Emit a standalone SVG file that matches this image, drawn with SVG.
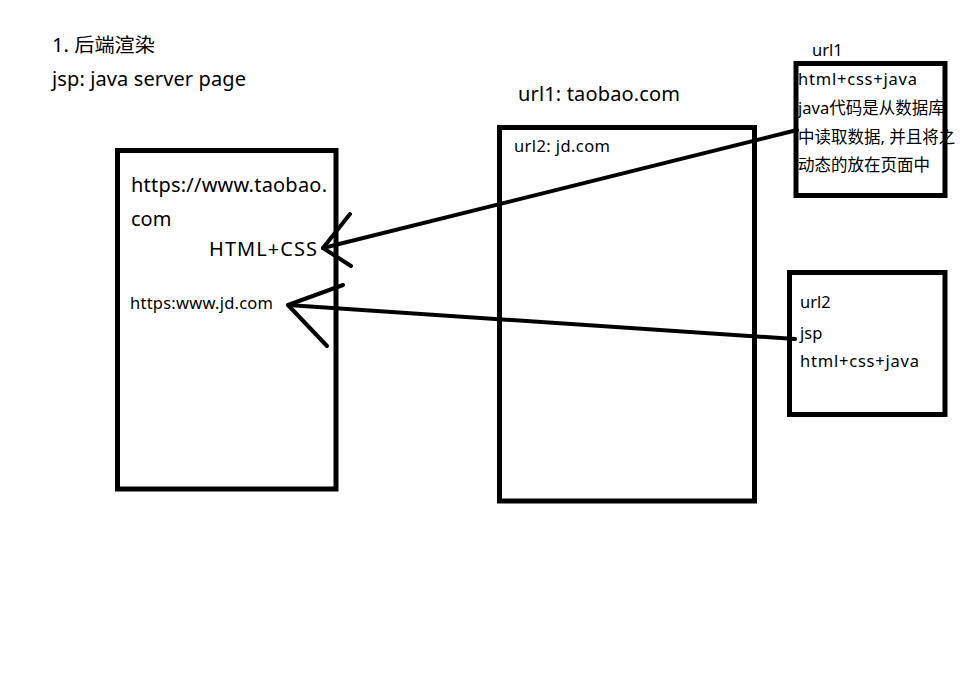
<svg xmlns="http://www.w3.org/2000/svg" width="971" height="690" viewBox="0 0 971 690">
<style>
text{font-family:"Noto Sans","Noto Sans CJK SC",sans-serif;fill:#000}
.box{fill:none;stroke:#000;stroke-width:5}
.ln{fill:none;stroke:#000;stroke-width:4;stroke-linecap:round;stroke-linejoin:round}
.t20{font-size:20px}
.t16{font-size:16.5px}
</style>
<rect width="971" height="690" fill="#fff"/>
<g id="title">
<text x="52" y="52" style="font-size:19px" textLength="103" lengthAdjust="spacingAndGlyphs">1. 后端渲染</text>
<text x="52" y="86" class="t20" textLength="194">jsp: java server page</text>
</g>
<g id="browser">
<rect class="box" x="117.5" y="150.5" width="218.5" height="338.5"/>
<text x="131" y="192" class="t20" textLength="196">https://www.taobao.</text>
<text x="131" y="226" class="t20">com</text>
<text x="209" y="256" class="t20" textLength="108">HTML+CSS</text>
<text x="130" y="309" class="t16" textLength="143">https:www.jd.com</text>
</g>
<g id="server-page">
<text x="518" y="101" class="t20" textLength="162">url1: taobao.com</text>
<rect class="box" x="499.5" y="127.5" width="255" height="373.5"/>
<text x="514" y="152" class="t16" textLength="96">url2: jd.com</text>
</g>
<g id="url1">
<text x="812" y="56" class="t16">url1</text>
<text x="798" y="85" class="t16" textLength="119">html+css+java</text>
<text x="798" y="114" class="t16">java代码是从数据库</text>
<text x="798" y="143" class="t16">中读取数据, 并且将之</text>
<text x="798" y="171" class="t16">动态的放在页面中</text>
<rect class="box" x="796" y="63.5" width="149" height="132"/>
</g>
<g id="url2">
<rect class="box" x="789.5" y="272.5" width="155.5" height="142"/>
<text x="800" y="308" class="t16">url2</text>
<text x="800" y="339" class="t16">jsp</text>
<text x="800" y="367" class="t16" textLength="119">html+css+java</text>
</g>
<g id="connectors">
<path class="ln" d="M797 130 L323 248"/>
<path class="ln" d="M350 214 L323 248 L351 266"/>
<path class="ln" d="M795 339 L288 305"/>
<path class="ln" d="M343 285 L288 305 L327 346"/>
</g>
</svg>
